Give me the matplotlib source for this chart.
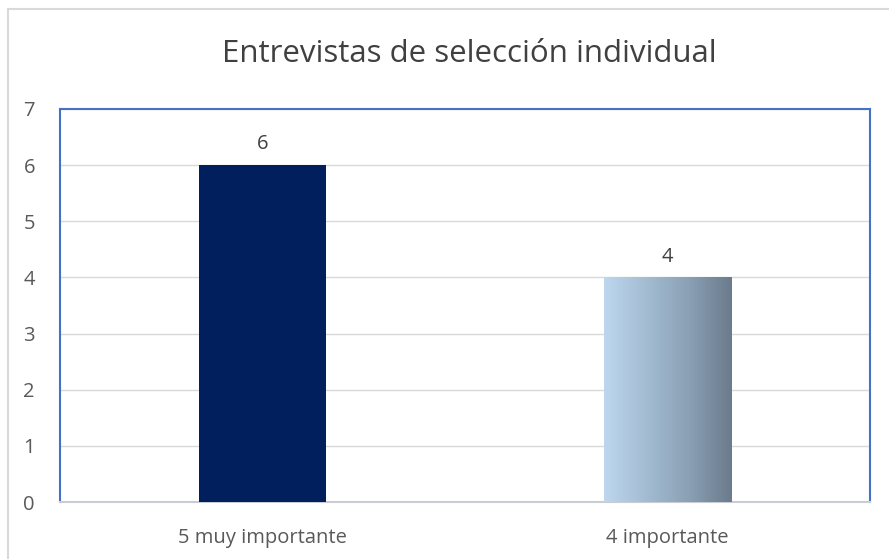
import numpy as np
import matplotlib.pyplot as plt
from matplotlib.colors import LinearSegmentedColormap
from matplotlib.patches import Rectangle

categories = ["5 muy importante", "4 importante"]
values = [6, 4]
yticks = [0, 1, 2, 3, 4, 5, 6, 7]

plt.rcParams['font.family'] = ['Open Sans', 'DejaVu Sans']

W, H = 889, 559
fig = plt.figure(figsize=(W / 100, H / 100), dpi=100)
ax = fig.add_axes([60 / W, 1 - 502 / H, (870 - 60) / W, (502 - 109) / H])

x = np.arange(len(categories))
bars = ax.bar(x, values, width=0.315, color=["#001F5C", "none"], zorder=3)

# gradient fill for second bar
grad = LinearSegmentedColormap.from_list("g", ["#BDD7EE", "#A3BCD2", "#8AA0B4", "#6A7B8C"])
b = bars[1]
bx, by, bw, bh = b.get_x(), b.get_y(), b.get_width(), b.get_height()
im = ax.imshow(np.linspace(0, 1, 256).reshape(1, -1), cmap=grad, aspect="auto",
               extent=[bx, bx + bw, by, by + bh], zorder=3)
im.set_clip_path(b)

for xi, v in zip(x, values):
    ax.text(xi, v + 0.37, str(v), ha="center", va="center", fontsize=14.5, color="#404040")

ax.set_xlim(-0.5, 1.5)
ax.set_ylim(0, 7)
ax.set_yticks(yticks)
ax.set_xticks(x)
ax.set_xticklabels(categories)
ax.tick_params(length=0, labelsize=14.5, labelcolor="#595959")
ax.tick_params(axis="y", pad=18)
ax.tick_params(axis="x", pad=19)
ax.grid(axis="y", color="#D9D9D9", linewidth=1, zorder=0)
for side in ["left", "top", "right"]:
    ax.spines[side].set_color("#4472C4")
    ax.spines[side].set_linewidth(1.5)
ax.spines["bottom"].set_color("#C8CDD5")
ax.spines["bottom"].set_linewidth(1.5)

fig.text(469 / W, 1 - 54 / H, "Entrevistas de selección individual", ha="center", va="center",
         fontsize=22.5, color="#404040")

fig.patches.append(Rectangle((7.5 / W, -0.1), 1.2, 1.1 - 9.5 / H, transform=fig.transFigure,
                             fill=False, edgecolor="#D9D9D9", linewidth=1.5))

fig.savefig("out.png", dpi=100)
